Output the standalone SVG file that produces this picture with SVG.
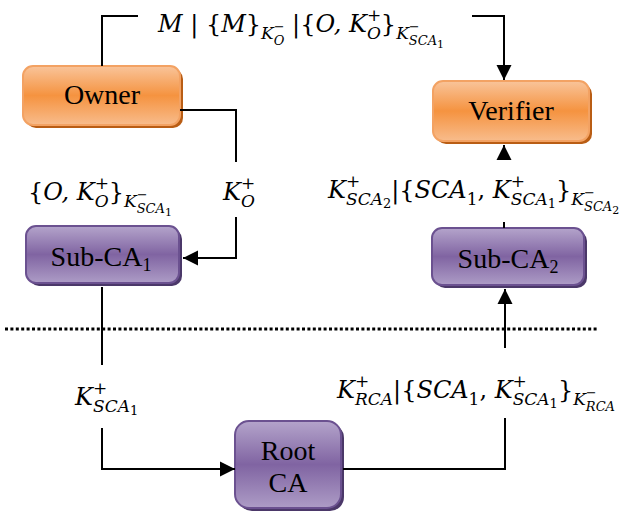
<svg xmlns="http://www.w3.org/2000/svg" width="632" height="514" viewBox="0 0 632 514">
<defs>
<linearGradient id="gOr" x1="0" y1="0" x2="0" y2="1">
<stop offset="0" stop-color="#f9c49a"/><stop offset="0.5" stop-color="#f59340"/><stop offset="1" stop-color="#f8bc8c"/>
</linearGradient>
<linearGradient id="gPu" x1="0" y1="0" x2="0" y2="1">
<stop offset="0" stop-color="#b4a4cb"/><stop offset="0.5" stop-color="#8064a2"/><stop offset="1" stop-color="#ad9cc6"/>
</linearGradient>
<marker id="arr" markerUnits="userSpaceOnUse" markerWidth="16" markerHeight="16" viewBox="0 0 16 16" refX="15" refY="8" orient="auto">
<path d="M0,0.5 L15,8 L0,15.5 Z" fill="#000"/>
</marker>
<style>
.or{fill:url(#gOr);stroke:#f3a263;stroke-width:2}
.orS{fill:#b95d14}
.pu{fill:url(#gPu);stroke:#6b5190;stroke-width:2}
.puS{fill:#4b3869}
.nt{font-family:"Liberation Serif","Times New Roman",serif;font-size:28px;fill:#000;text-anchor:middle}
.sb{font-size:18px}
.c{fill:none;stroke:#000;stroke-width:2}
.m{font-family:"DejaVu Serif","Liberation Serif",serif;font-style:italic;font-size:24px;fill:#000}
.s{font-size:17px}
.ss{font-size:13px}
.s3{font-size:11px}
.u{font-style:normal}
</style>
</defs>
<rect width="632" height="514" fill="#fff"/>

<g id="owner">
<rect class="orS" x="26" y="69" width="157" height="59" rx="10"/>
<rect class="or" x="23" y="66" width="157" height="59" rx="10"/>
<text class="nt" x="102" y="104">Owner</text>
</g>
<g id="verifier">
<rect class="orS" x="436" y="84" width="156" height="60" rx="10"/>
<rect class="or" x="433" y="81" width="156" height="60" rx="10"/>
<text class="nt" x="511" y="120">Verifier</text>
</g>
<g id="subca1">
<rect class="puS" x="29" y="229" width="153" height="57" rx="10"/>
<rect class="pu" x="26" y="226" width="153" height="57" rx="10"/>
<text class="nt" x="101" y="266">Sub-CA<tspan class="sb" dy="5">1</tspan></text>
</g>
<g id="subca2">
<rect class="puS" x="435" y="231" width="152" height="57" rx="10"/>
<rect class="pu" x="432" y="228" width="152" height="57" rx="10"/>
<text class="nt" x="508" y="268">Sub-CA<tspan class="sb" dy="5">2</tspan></text>
</g>
<g id="rootca">
<rect class="puS" x="238" y="424" width="106" height="87" rx="14"/>
<rect class="pu" x="235" y="421" width="106" height="87" rx="14"/>
<text class="nt" x="288" y="460">Root</text>
<text class="nt" x="288" y="492">CA</text>
</g>

<g id="connectors">
<path class="c" d="M102,66 V16 H138"/>
<path class="c" d="M472,16 H504 V80" marker-end="url(#arr)"/>
<path class="c" d="M180,110 H236 V162"/>
<path class="c" d="M236,217 V258 H183" marker-end="url(#arr)"/>
<path class="c" d="M504,160 V145" marker-end="url(#arr)"/>
<path class="c" d="M504,222 V228"/>
<path class="c" d="M102,287 V365"/>
<path class="c" d="M102,428 V469 H235" marker-end="url(#arr)"/>
<path class="c" d="M343,469 H505 V418"/>
<path class="c" d="M505,348 V289" marker-end="url(#arr)"/>
<path d="M5,329 H598" fill="none" stroke="#000" stroke-width="3" stroke-dasharray="3 2.4"/>
</g>

<g id="labels">
<text class="m" x="158" y="32">M <tspan class="u">| {</tspan>M<tspan class="u">}</tspan><tspan class="s" dy="7">K</tspan><tspan class="ss u" dy="-8">−</tspan><tspan class="ss" dx="-10.9" dy="14">O</tspan><tspan class="u" dy="-13"> |{</tspan>O, K<tspan class="s u" dy="-11">+</tspan><tspan class="s" dx="-14.2" dy="18">O</tspan><tspan class="u" dy="-7">}</tspan><tspan class="s" dy="7">K</tspan><tspan class="ss u" dy="-8">−</tspan><tspan class="ss" dx="-10.9" dy="14">SCA</tspan><tspan class="s3 u" dy="3">1</tspan></text>

<text class="m" x="28" y="200"><tspan class="u">{</tspan>O, K<tspan class="s u" dy="-11">+</tspan><tspan class="s" dx="-14.2" dy="18">O</tspan><tspan class="u" dy="-7">}</tspan><tspan class="s" dy="7">K</tspan><tspan class="ss u" dy="-8">−</tspan><tspan class="ss" dx="-10.9" dy="14">SCA</tspan><tspan class="s3 u" dy="3">1</tspan></text>

<text class="m" x="223" y="200">K<tspan class="s u" dy="-11">+</tspan><tspan class="s" dx="-14.2" dy="18">O</tspan></text>

<text class="m" x="328" y="198">K<tspan class="s u" dy="-11">+</tspan><tspan class="s" dx="-14.2" dy="18">SCA</tspan><tspan class="ss u" dy="3">2</tspan><tspan class="u" dy="-10">|{</tspan>SCA<tspan class="s u" dy="7">1</tspan><tspan class="u" dy="-7">, </tspan>K<tspan class="s u" dy="-11">+</tspan><tspan class="s" dx="-14.2" dy="18">SCA</tspan><tspan class="ss u" dy="3">1</tspan><tspan class="u" dy="-10">}</tspan><tspan class="s" dy="7">K</tspan><tspan class="ss u" dy="-8">−</tspan><tspan class="ss" dx="-10.9" dy="14">SCA</tspan><tspan class="s3 u" dy="3">2</tspan></text>

<text class="m" x="75" y="405">K<tspan class="s u" dy="-11">+</tspan><tspan class="s" dx="-14.2" dy="18">SCA</tspan><tspan class="ss u" dy="3">1</tspan></text>

<text class="m" x="337" y="398">K<tspan class="s u" dy="-11">+</tspan><tspan class="s" dx="-14.2" dy="18">RCA</tspan><tspan class="u" dy="-7">|{</tspan>SCA<tspan class="s u" dy="7">1</tspan><tspan class="u" dy="-7">, </tspan>K<tspan class="s u" dy="-11">+</tspan><tspan class="s" dx="-14.2" dy="18">SCA</tspan><tspan class="ss u" dy="3">1</tspan><tspan class="u" dy="-10">}</tspan><tspan class="s" dy="7">K</tspan><tspan class="ss u" dy="-8">−</tspan><tspan class="ss" dx="-10.9" dy="14">RCA</tspan></text>
</g>
</svg>
